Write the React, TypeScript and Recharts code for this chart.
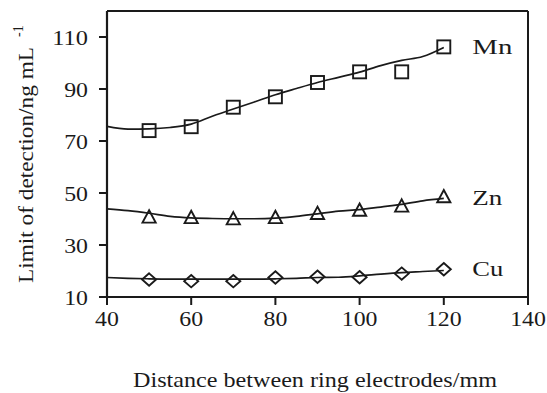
import React from 'react';
import { LineChart, Line, XAxis, YAxis, ReferenceLine } from 'recharts';

const distances = [50, 60, 70, 80, 90, 100, 110, 120];
const mnValues = [74, 75.5, 83, 87, 92.5, 96.6, 96.6, 106.2];
const znValues = [40.2, 40, 39.5, 40, 41.6, 42.8, 44.4, 48];
const cuValues = [16.7, 16.1, 16.1, 17.5, 17.8, 17.6, 19, 20.7];

const trendX = [40, 45, 50, 55, 60, 65, 70, 75, 80, 85, 90, 95, 100, 105, 110, 115, 120];
const mnTrend = [75.6, 74.6, 74.7, 75.2, 76.5, 79.5, 82.3, 85, 87.8, 90.2, 92.5, 94.5, 96.5, 99, 101, 102.5, 106];
const znTrend = [43.9, 43.2, 42.2, 41, 40.4, 40.2, 40.1, 40.1, 40.3, 41, 42, 43, 43.6, 44.6, 45.6, 47, 47.9];
const cuTrend = [17.5, 17.2, 17.0, 16.9, 16.9, 16.9, 16.9, 16.9, 17.0, 17.2, 17.5, 17.6, 18.1, 18.8, 19.4, 19.8, 20.2];

const xTicks = [40, 60, 80, 100, 120, 140];
const yTicks = [10, 30, 50, 70, 90, 110];
const seriesNames = ['Mn', 'Zn', 'Cu'];

const FONT = '"Liberation Serif", "Times New Roman", serif';
const INK = '#1a1a1a';

const toPoints = (xs: number[], ys: number[]) => xs.map((x, i) => ({ x, y: ys[i] }));

const mnData = toPoints(distances, mnValues);
const znData = toPoints(distances, znValues);
const cuData = toPoints(distances, cuValues);
const mnTrendData = toPoints(trendX, mnTrend);
const znTrendData = toPoints(trendX, znTrend);
const cuTrendData = toPoints(trendX, cuTrend);

const DIGIT_W = 11.9;

const XTick = (props: any) => {
  const { x, payload } = props;
  const s = String(payload.value);
  const len = s.length * DIGIT_W;
  return (
    <text x={x - len / 2} y={325.5} fontFamily={FONT} fontSize={20} fill={INK}
      textLength={len} lengthAdjust="spacingAndGlyphs">{s}</text>
  );
};

const YTick = (props: any) => {
  const { y, payload } = props;
  const s = String(payload.value);
  const len = s.length * DIGIT_W;
  return (
    <text x={88 - len} y={y + 7.5} fontFamily={FONT} fontSize={20} fill={INK}
      textLength={len} lengthAdjust="spacingAndGlyphs">{s}</text>
  );
};

const SquareDot = (props: any) => {
  const { cx, cy, index } = props;
  if (cx == null || cy == null) return <g key={index} />;
  return <rect key={index} x={cx - 6.5} y={cy - 6.5} width={13} height={13} fill="none" stroke={INK} strokeWidth={1.9} />;
};

const TriangleDot = (props: any) => {
  const { cx, cy, index } = props;
  if (cx == null || cy == null) return <g key={index} />;
  const d = `M${cx},${cy - 8.2} L${cx + 6.6},${cy + 4.1} L${cx - 6.6},${cy + 4.1} Z`;
  return <path key={index} d={d} fill="none" stroke={INK} strokeWidth={1.9} strokeLinejoin="miter" />;
};

const DiamondDot = (props: any) => {
  const { cx, cy, index } = props;
  if (cx == null || cy == null) return <g key={index} />;
  const d = `M${cx},${cy - 6.2} L${cx + 7},${cy} L${cx},${cy + 6.2} L${cx - 7},${cy} Z`;
  return <path key={index} d={d} fill="none" stroke={INK} strokeWidth={1.9} />;
};

const labelWidths: Record<string, number> = { Mn: 40, Zn: 30, Cu: 31 };

const makeLabel = (name: string, lastIndex: number) => (props: any) => {
  const { x, y, index } = props;
  if (index !== lastIndex) return null;
  return (
    <text key={name} x={x + 28.5} y={y + 6.7} fontFamily={FONT} fontSize={22} fill={INK}
      textLength={labelWidths[name]} lengthAdjust="spacingAndGlyphs">{name}</text>
  );
};

const YTitle = () => (
  <g>
    <text x={33} y={283} transform="rotate(-90, 33, 283)" fontFamily={FONT} fontSize={22} fill={INK}
      textLength={236} lengthAdjust="spacingAndGlyphs">Limit of detection/ng mL</text>
    <text x={22.5} y={37} transform="rotate(-90, 22.5, 37)" fontFamily={FONT} fontSize={14} fill={INK}>-1</text>
  </g>
);

export default function App() {
  const last = distances.length - 1;
  return (
    <div style={{ position: 'absolute', left: 0, top: 0, width: 547, height: 393, background: '#fff' }}>
      <LineChart width={547} height={393} margin={{ top: 11, right: 19, bottom: 66, left: 7 }}>
        <XAxis dataKey="x" type="number" domain={[40, 140]} ticks={xTicks} allowDataOverflow
          axisLine={{ stroke: INK, strokeWidth: 2.2 }} tickLine={{ stroke: INK, strokeWidth: 2 }}
          tickSize={8} height={30} tick={<XTick />} interval={0} />
        <YAxis type="number" domain={[10, 120]} ticks={yTicks} allowDataOverflow
          axisLine={{ stroke: INK, strokeWidth: 2.2 }} tickLine={{ stroke: INK, strokeWidth: 2 }}
          tickSize={8} width={100} tick={<YTick />} interval={0} />
        <ReferenceLine y={120} stroke={INK} strokeWidth={2} ifOverflow="extendDomain" />
        <ReferenceLine x={140} stroke={INK} strokeWidth={2} ifOverflow="extendDomain" />

        <Line data={mnTrendData} dataKey="y" type="monotone" stroke={INK} strokeWidth={1.7} dot={false} activeDot={false} isAnimationActive={false} />
        <Line data={znTrendData} dataKey="y" type="monotone" stroke={INK} strokeWidth={1.7} dot={false} activeDot={false} isAnimationActive={false} />
        <Line data={cuTrendData} dataKey="y" type="monotone" stroke={INK} strokeWidth={1.7} dot={false} activeDot={false} isAnimationActive={false} />

        <Line data={mnData} dataKey="y" name={seriesNames[0]} stroke="none" dot={<SquareDot />} activeDot={false}
          label={makeLabel(seriesNames[0], last)} isAnimationActive={false} />
        <Line data={znData} dataKey="y" name={seriesNames[1]} stroke="none" dot={<TriangleDot />} activeDot={false}
          label={makeLabel(seriesNames[1], last)} isAnimationActive={false} />
        <Line data={cuData} dataKey="y" name={seriesNames[2]} stroke="none" dot={<DiamondDot />} activeDot={false}
          label={makeLabel(seriesNames[2], last)} isAnimationActive={false} />
      </LineChart>
      <svg width={547} height={393} style={{ position: 'absolute', left: 0, top: 0, pointerEvents: 'none' }}>
        <YTitle />
        <text x={133} y={387} fontFamily={FONT} fontSize={22} fill={INK}
          textLength={364} lengthAdjust="spacingAndGlyphs">Distance between ring electrodes/mm</text>
      </svg>
    </div>
  );
}
